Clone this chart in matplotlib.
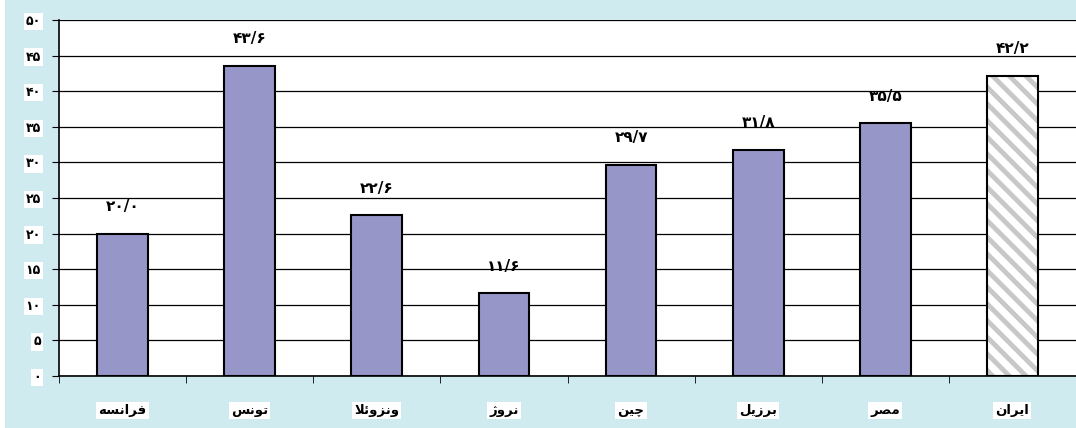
import matplotlib.pyplot as plt
import matplotlib.patches as mpatches
import numpy as np

# data
kishvarha = ['فرانسه', 'تونس', 'ونزوئلا', 'نروژ', 'چین', 'برزیل', 'مصر', 'ایران']
meghdar = [20.0, 43.6, 22.6, 11.6, 29.7, 31.8, 35.5, 42.2]
y_ticks = [0, 5, 10, 15, 20, 25, 30, 35, 40, 45, 50]

# persian digits
fa_digits = str.maketrans('0123456789', '۰۱۲۳۴۵۶۷۸۹')

def fa_num(s):
    return str(s).translate(fa_digits)

# simple arabic shaping (isolated, final, initial, medial)
forms = {
    'ا': ('\uFE8D', '\uFE8E'),
    'ب': ('\uFE8F', '\uFE90', '\uFE91', '\uFE92'),
    'ت': ('\uFE95', '\uFE96', '\uFE97', '\uFE98'),
    'ئ': ('\uFE89', '\uFE8A', '\uFE8B', '\uFE8C'),
    'ر': ('\uFEAD', '\uFEAE'),
    'ز': ('\uFEAF', '\uFEB0'),
    'ژ': ('\uFB8A', '\uFB8B'),
    'س': ('\uFEB1', '\uFEB2', '\uFEB3', '\uFEB4'),
    'ص': ('\uFEB9', '\uFEBA', '\uFEBB', '\uFEBC'),
    'ف': ('\uFED1', '\uFED2', '\uFED3', '\uFED4'),
    'ل': ('\uFEDD', '\uFEDE', '\uFEDF', '\uFEE0'),
    'م': ('\uFEE1', '\uFEE2', '\uFEE3', '\uFEE4'),
    'ن': ('\uFEE5', '\uFEE6', '\uFEE7', '\uFEE8'),
    'ه': ('\uFEE9', '\uFEEA', '\uFEEB', '\uFEEC'),
    'و': ('\uFEED', '\uFEEE'),
    'ی': ('\uFBFC', '\uFBFD', '\uFBFE', '\uFBFF'),
    'چ': ('\uFB7A', '\uFB7B', '\uFB7C', '\uFB7D'),
}

def shape(word):
    # lam-alef ligature
    letters = []
    i = 0
    while i < len(word):
        if word[i] == 'ل' and i + 1 < len(word) and word[i + 1] == 'ا':
            letters.append('لا')
            i += 2
        else:
            letters.append(word[i])
            i += 1
    out = []
    for i, ch in enumerate(letters):
        prev = letters[i - 1] if i > 0 else None
        nxt = letters[i + 1] if i + 1 < len(letters) else None
        joins_prev = prev is not None and prev != 'لا' and len(forms[prev]) == 4
        if ch == 'لا':
            out.append('\uFEFC' if joins_prev else '\uFEFB')
            continue
        f = forms[ch]
        joins_next = len(f) == 4 and nxt is not None
        if joins_prev and joins_next:
            out.append(f[3])
        elif joins_prev:
            out.append(f[1])
        elif joins_next:
            out.append(f[2])
        else:
            out.append(f[0])
    return ''.join(reversed(out))

plt.rcParams['font.family'] = ['DejaVu Sans']

fig = plt.figure(figsize=(10.76, 4.28), dpi=100)
fig.patch.set_facecolor('white')
fig.patches.append(mpatches.Rectangle((5 / 1076, 0), 1, 1, transform=fig.transFigure,
                                      facecolor='#cfebf0', edgecolor='none', zorder=-10))

ax = fig.add_axes([59 / 1076, 52 / 428, 1017 / 1076, 356 / 428])
ax.set_facecolor('white')

x = np.arange(len(kishvarha))
rang = ['#9696c9'] * (len(kishvarha) - 1)
ax.bar(x[:-1], meghdar[:-1], width=0.4, color=rang, edgecolor='black', linewidth=1.5, zorder=3)

# hatched bar for iran
plt.rcParams['hatch.linewidth'] = 3.5
ax.bar(x[-1:], meghdar[-1:], width=0.4, color='white', edgecolor='#c8c8c8', linewidth=0,
       hatch='\\\\', zorder=3)
ax.bar(x[-1:], meghdar[-1:], width=0.4, fill=False, edgecolor='black', linewidth=1.5, zorder=4)

for xi, v in zip(x, meghdar):
    ax.text(xi, v + 3.8, fa_num(f'{v:.1f}').replace('.', '/'), ha='center', va='center',
            fontsize=11, fontweight='bold', color='black')

ax.set_xlim(-0.5, len(kishvarha) - 0.5)
ax.set_ylim(0, 50)
ax.set_yticks(y_ticks)
ax.set_yticklabels([fa_num(t) for t in y_ticks], fontweight='bold', fontsize=9)
for lab in ax.get_yticklabels():
    lab.set_bbox(dict(facecolor='white', edgecolor='none', pad=1.5))
ax.yaxis.grid(True, color='black', linewidth=0.9)
ax.set_axisbelow(True)

ax.set_xticks(x)
ax.set_xticklabels([shape(k) for k in kishvarha], fontweight='bold', fontsize=9.5)
for lab in ax.get_xticklabels():
    lab.set_bbox(dict(facecolor='white', edgecolor='none', pad=1.5))
ax.set_xticks(np.arange(len(kishvarha) + 1) - 0.5, minor=True)
ax.tick_params(axis='x', which='major', length=0, pad=20)
ax.tick_params(axis='x', which='minor', length=5, direction='out', color='black')
ax.tick_params(axis='y', length=5, direction='out', color='black', pad=8)

for s in ['top', 'right']:
    ax.spines[s].set_visible(False)
ax.spines['left'].set_linewidth(1.2)
ax.spines['bottom'].set_linewidth(1.2)

plt.savefig('out.png', dpi=100)
